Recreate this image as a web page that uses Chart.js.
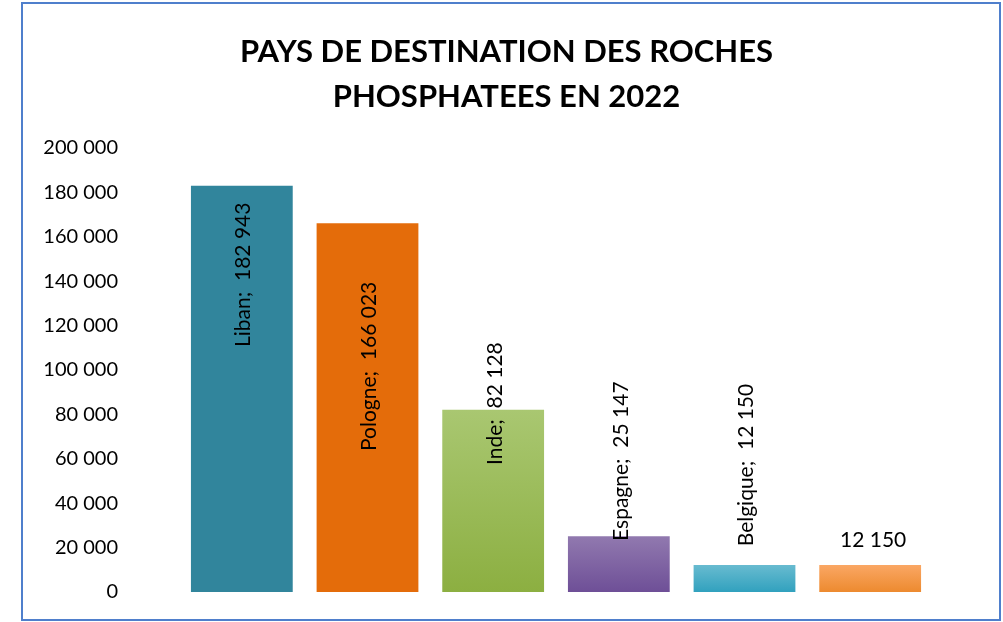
<!DOCTYPE html>
<html>
<head>
<meta charset="utf-8">
<script src="https://cdn.jsdelivr.net/npm/chart.js@4/dist/chart.umd.min.js"></script>
<style>
	html, body { margin: 0; padding: 0; background: #fff; }
	#wrap { position: absolute; left: 0; top: 0; width: 1003px; height: 622px; }
	#frame { position: absolute; left: 21px; top: 2px; width: 976px; height: 615px; border: 2px solid #4F7FCC; pointer-events: none; }
</style>
</head>
<body>
<div id="wrap">
	<canvas id="destChart" width="1003" height="622"></canvas>
	<div id="frame"></div>
</div>
<script>
// data
var categories = ['Liban', 'Pologne', 'Inde', 'Espagne', 'Belgique', ''];
var tonnes = [182943, 166023, 82128, 25147, 12150, 12150];
var yTicks = [0, 20000, 40000, 60000, 80000, 100000, 120000, 140000, 160000, 180000, 200000];

// bar fills: [top colour, bottom colour]
var fills = [
	['#31859C', '#31859C'],
	['#E46C0A', '#E46C0A'],
	['#A9C771', '#8CAF41'],
	['#9179AF', '#6E4F97'],
	['#68BBD0', '#31A1BE'],
	['#FAA764', '#ED8A2F']
];

function fmt(v) {
	return String(v).replace(/\B(?=(\d{3})+(?!\d))/g, ' ');
}

function barFill(context) {
	var chart = context.chart;
	var i = context.dataIndex;
	var f = fills[i];
	if (!chart.chartArea || !chart.scales.y) return f[1];
	var top = chart.scales.y.getPixelForValue(tonnes[i]);
	var bottom = chart.scales.y.getPixelForValue(0);
	var g = chart.ctx.createLinearGradient(0, top, 0, bottom);
	g.addColorStop(0, f[0]);
	g.addColorStop(1, f[1]);
	return g;
}

// labels drawn next to each bar, rotated like in the original
var barLabels = {
	id: 'barLabels',
	afterDatasetsDraw: function(chart, args, opts) {
		var ctx = chart.ctx;
		var meta = chart.getDatasetMeta(0);
		ctx.save();
		ctx.font = opts.font;
		ctx.fillStyle = '#000';
		ctx.textAlign = 'center';
		ctx.textBaseline = 'middle';
		meta.data.forEach(function(bar, i) {
			var cat = categories[i];
			var text = cat ? cat + ';  ' + fmt(tonnes[i]) : fmt(tonnes[i]);
			ctx.save();
			ctx.translate(bar.x + opts.dx[i], bar.y + opts.offsets[i]);
			if (cat) ctx.rotate(-Math.PI / 2);
			ctx.fillText(text, 0, 0);
			ctx.restore();
		});
		ctx.restore();
	}
};

var chart = new Chart(document.getElementById('destChart'), {
	type: 'bar',
	data: {
		labels: categories,
		datasets: [{
			data: tonnes,
			backgroundColor: barFill,
			borderWidth: 0,
			categoryPercentage: 0.9,
			barPercentage: 0.9
		}]
	},
	plugins: [barLabels],
	options: {
		responsive: false,
		animation: false,
		layout: { padding: { left: 10, right: 0, top: 0, bottom: 30 } },
		plugins: {
			legend: { display: false },
			tooltip: { enabled: false },
			title: {
				display: true,
				text: ['PAYS DE DESTINATION DES ROCHES', 'PHOSPHATEES EN 2022'],
				color: '#000',
				font: { family: 'Lato', size: 31, weight: 'bold', lineHeight: 1.45 },
				padding: { top: 30, bottom: 28 }
			},
			barLabels: {
				font: '21px Lato',
				offsets: [89, 143, -6, -75, -100, -25],
				dx: [1, 2, 2, 2, 2, 3]
			}
		},
		scales: {
			x: { display: false },
			y: {
				min: 0,
				max: 200000,
				afterBuildTicks: function(s) {
					s.ticks = yTicks.map(function(v) { return { value: v }; });
				},
				afterFit: function(s) {
					s.width = 169;
					s.paddingTop = 12;
					s.paddingBottom = 12;
				},
				grid: { display: false, drawTicks: false },
				border: { display: false },
				ticks: {
					color: '#000',
					padding: 61,
					font: { family: 'Lato', size: 20 },
					callback: function(v) { return fmt(v); }
				}
			},
			// empty spacer on the right side of the plot
			yRight: {
				position: 'right',
				min: 0,
				max: 200000,
				afterFit: function(s) {
					s.width = 70;
					s.paddingTop = 0;
					s.paddingBottom = 0;
				},
				grid: { display: false, drawTicks: false },
				border: { display: false },
				ticks: { display: false }
			}
		}
	}
});
</script>
</body>
</html>
